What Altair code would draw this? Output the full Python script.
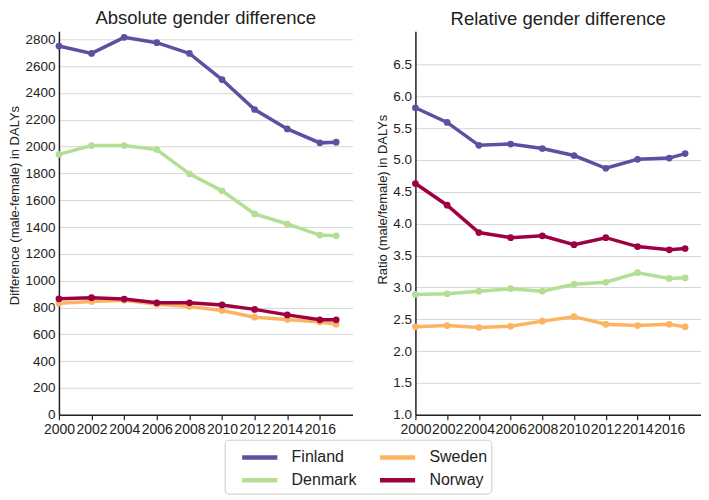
import altair as alt
import pandas as pd

years = [2000, 2002, 2004, 2006, 2008, 2010, 2012, 2014, 2016, 2017]
countries = ["Finland", "Denmark", "Sweden", "Norway"]
colors = ["#5e4fa2", "#b3df95", "#fdb462", "#9e0142"]

abs_finland = [2750, 2695, 2815, 2775, 2695, 2500, 2277, 2132, 2028, 2033]
abs_denmark = [1942, 2008, 2008, 1978, 1797, 1670, 1498, 1423, 1340, 1335]
abs_sweden = [832, 845, 854, 825, 808, 778, 728, 711, 692, 675]
abs_norway = [865, 873, 863, 835, 835, 819, 786, 745, 708, 708]

rel_finland = [5.82, 5.59, 5.23, 5.25, 5.18, 5.07, 4.87, 5.01, 5.03, 5.10]
rel_denmark = [2.89, 2.90, 2.94, 2.98, 2.94, 3.05, 3.08, 3.23, 3.14, 3.15]
rel_sweden = [2.38, 2.40, 2.37, 2.39, 2.47, 2.54, 2.42, 2.40, 2.42, 2.38]
rel_norway = [4.63, 4.29, 3.86, 3.78, 3.81, 3.67, 3.78, 3.64, 3.59, 3.61]

abs_vals = {"Finland": abs_finland, "Denmark": abs_denmark, "Sweden": abs_sweden, "Norway": abs_norway}
rel_vals = {"Finland": rel_finland, "Denmark": rel_denmark, "Sweden": rel_sweden, "Norway": rel_norway}

FONT = "Liberation Sans"

color_scale = alt.Scale(domain=countries, range=colors)
legend = alt.Legend(
    title=None, orient="none", legendX=166, legendY=409, columns=2, values=countries,
    symbolType="M0,0H3.2", symbolStrokeWidth=4.5, symbolSize=484,
    labelFontSize=16, labelFont=FONT, labelColor="#222", labelOffset=36,
    columnPadding=10, rowPadding=0, padding=4, strokeColor="#cccccc",
    cornerRadius=4, fillColor="white",
)

x_axis = alt.Axis(values=list(range(2000, 2017, 2)), format="d", title=None,
                  labelFlush=False, labelOverlap=False, ticks=True, tickSize=5,
                  tickColor="#222", tickWidth=1.2, grid=False,
                  domainColor="#222", domainWidth=1.5, labelFontSize=14,
                  labelFont=FONT, labelColor="#222", labelPadding=3)


def panel(vals, title, ytitle, title_y, ydomain, yvalues, yformat, width):
    y_axis = alt.Axis(values=yvalues, format=yformat, title=ytitle, ticks=False,
                      grid=True, gridColor="#d6d6d6", gridWidth=1,
                      domainColor="#222", domainWidth=1.5, labelFontSize=13.5,
                      labelFont=FONT, labelColor="#222", labelPadding=4,
                      titleFont=FONT, titleFontSize=13, titleFontWeight="normal",
                      titleColor="#222", titlePadding=3, titleY=title_y)
    layers = []
    for c in ["Finland", "Denmark", "Sweden", "Norway"]:
        df = pd.DataFrame({"Year": years, "Value": vals[c], "Country": c})
        base = alt.Chart(df).encode(
            x=alt.X("Year:Q", scale=alt.Scale(domain=[2000, 2018], nice=False), axis=x_axis),
            y=alt.Y("Value:Q", scale=alt.Scale(domain=ydomain, nice=False, zero=False), axis=y_axis),
            color=alt.Color("Country:N", scale=color_scale, legend=legend),
        )
        layers.append(base.mark_line(strokeWidth=3.5))
        layers.append(base.mark_point(filled=True, size=45, opacity=1))
    return alt.layer(*layers).properties(
        width=width, height=384,
        title=alt.Title(title, fontSize=18.5, fontWeight="normal", font=FONT,
                        color="#222", offset=3),
    )


left = panel(abs_vals, "Absolute gender difference", "Difference (male-female) in DALYs", 174,
             [0, 2860], list(range(0, 2801, 200)), "d", 294)
right = panel(rel_vals, "Relative gender difference", "Ratio (male/female) in DALYs", 168,
              [1, 7.02], [1.0 + 0.5 * i for i in range(12)], ".1f", 286)

chart = alt.hconcat(left, right, spacing=24).properties(padding=0).configure_view(
    stroke=None
).configure_concat(spacing=24)

chart.save("out.html", embed_options={"renderer": "svg", "actions": False})
